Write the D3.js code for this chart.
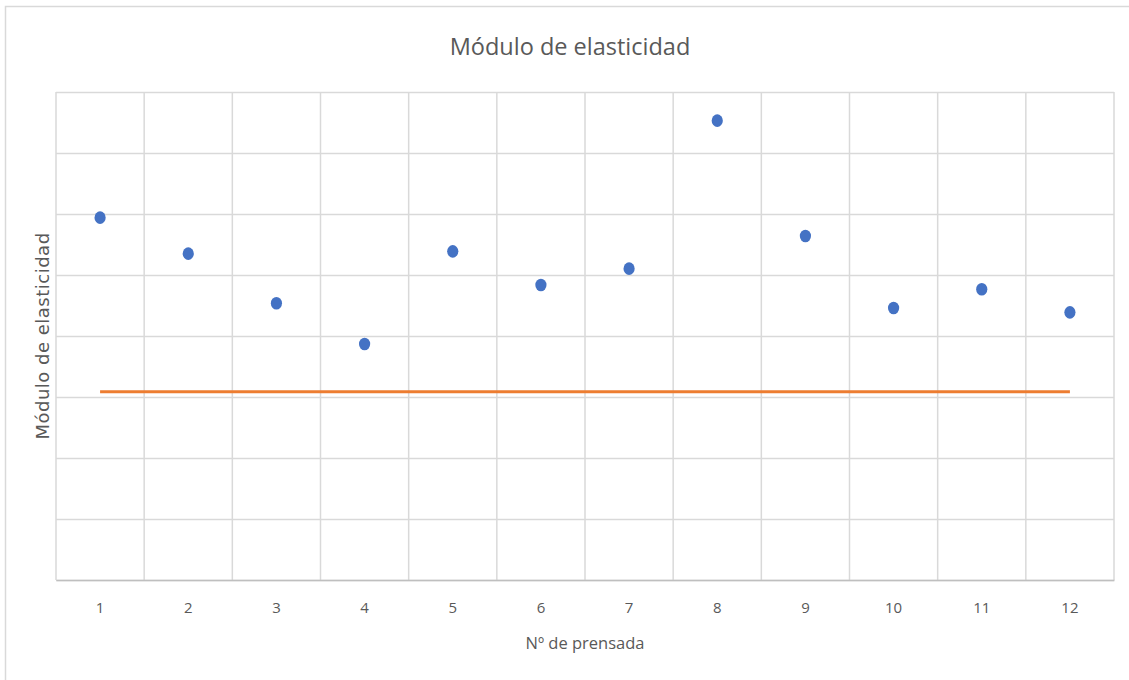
<!DOCTYPE html>
<html>
<head>
<meta charset="utf-8">
<script src="https://cdn.jsdelivr.net/npm/d3@7"></script>
<style>
  html, body { margin: 0; padding: 0; background: #fff; }
  svg { display: block; }
  text { font-family: "Open Sans", "Liberation Sans", sans-serif; fill: #595959; }
</style>
</head>
<body>
<svg id="chart" width="1129" height="680"></svg>
<script>
// Pressing number (categories) and measured elastic modulus per pressing
const pressings = ["1", "2", "3", "4", "5", "6", "7", "8", "9", "10", "11", "12"];
const modulus = [2970, 2675, 2268, 1934, 2694, 2418, 2552, 3765, 2820, 2230, 2383, 2194];
// Reference (minimum) modulus drawn as a horizontal line across all pressings
const referenceValue = [1543, 1543, 1543, 1543, 1543, 1543, 1543, 1543, 1543, 1543, 1543, 1543];
const yTicks = [0, 500, 1000, 1500, 2000, 2500, 3000, 3500, 4000];

const svg = d3.select("#chart");
const W = 1129, H = 680;
const plot = { left: 56, right: 1114, top: 92, bottom: 580 };

// Outer chart frame
svg.append("rect")
  .attr("x", 5.5).attr("y", 6.5)
  .attr("width", W + 20).attr("height", H + 20)
  .attr("fill", "#fff").attr("stroke", "#d9d9d9").attr("stroke-width", 1.5);

const x = d3.scaleBand().domain(pressings).range([plot.left, plot.right]).paddingInner(0).paddingOuter(0);
const y = d3.scaleLinear().domain([0, 4000]).range([plot.bottom, plot.top]);

// Horizontal gridlines
svg.append("g")
  .attr("transform", `translate(${plot.left},0)`)
  .call(d3.axisLeft(y).tickValues(yTicks).tickSize(-(plot.right - plot.left)).tickFormat(""))
  .call(g => g.select(".domain").remove())
  .call(g => g.selectAll(".tick line").attr("stroke", "#d9d9d9").attr("stroke-width", 1.5));

// Vertical gridlines at category boundaries
const boundaries = pressings.map(p => x(p)).concat([x(pressings[pressings.length - 1]) + x.bandwidth()]);
svg.append("g").selectAll("line").data(boundaries).join("line")
  .attr("x1", d => d).attr("x2", d => d)
  .attr("y1", plot.top).attr("y2", plot.bottom)
  .attr("stroke", "#d9d9d9").attr("stroke-width", 1.5);

// Category axis
svg.append("g")
  .attr("transform", `translate(0,${plot.bottom})`)
  .call(d3.axisBottom(x).tickSize(0).tickPadding(22))
  .call(g => g.select(".domain").attr("stroke", "#bfbfbf").attr("stroke-width", 1.5))
  .call(g => g.selectAll(".tick text").style("font-size", "15px").attr("fill", "#595959"));

// Reference line
const line = d3.line().x((d, i) => x(pressings[i]) + x.bandwidth() / 2).y(d => y(d));
svg.append("path")
  .datum(referenceValue)
  .attr("d", line)
  .attr("fill", "none").attr("stroke", "#ed7d31").attr("stroke-width", 3);

// Measured points
svg.append("g").selectAll("ellipse").data(modulus).join("ellipse")
  .attr("cx", (d, i) => x(pressings[i]) + x.bandwidth() / 2)
  .attr("cy", d => y(d))
  .attr("rx", 5.6).attr("ry", 6.3)
  .attr("fill", "#4472c4");

// Titles
svg.append("text")
  .attr("x", 570).attr("y", 55)
  .attr("text-anchor", "middle")
  .style("font-size", "23.5px")
  .text("Módulo de elasticidad");

svg.append("text")
  .attr("x", (plot.left + plot.right) / 2).attr("y", 649)
  .attr("text-anchor", "middle")
  .style("font-size", "16.5px")
  .text("Nº de prensada");

svg.append("text")
  .attr("transform", `translate(49,${(plot.top + plot.bottom) / 2}) rotate(-90)`)
  .attr("text-anchor", "middle")
  .style("font-family", "'DejaVu Sans', sans-serif")
  .style("font-size", "18px")
  .style("letter-spacing", "0.5px")
  .text("Módulo de elasticidad");
</script>
</body>
</html>
